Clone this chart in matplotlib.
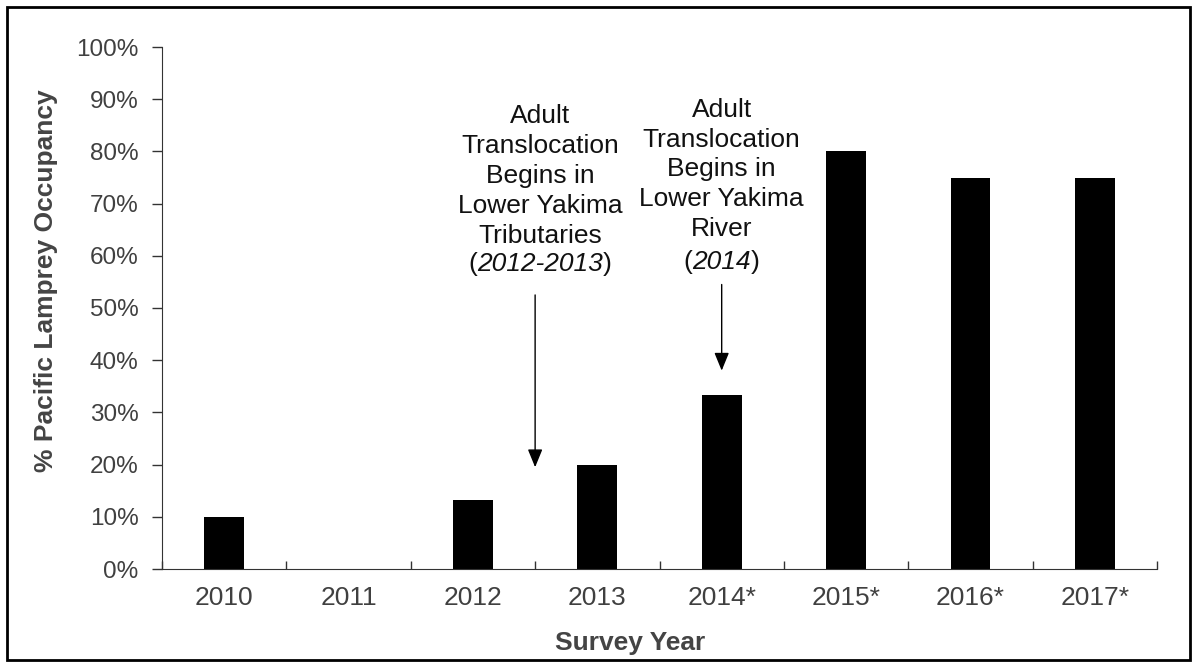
import matplotlib
matplotlib.use("Agg")
import matplotlib.pyplot as plt
from matplotlib.patches import Rectangle
from matplotlib.offsetbox import TextArea, HPacker, AnnotationBbox

years = ["2010", "2011", "2012", "2013", "2014*", "2015*", "2016*", "2017*"]
occupancy = [10.0, 0.0, 13.3, 20.0, 33.3, 80.0, 75.0, 75.0]
yticks = [0, 10, 20, 30, 40, 50, 60, 70, 80, 90, 100]
ytick_labels = [f"{v}%" for v in yticks]

note1_lines = "Adult\nTranslocation\nBegins in\nLower Yakima\nTributaries"
note1_years = "2012-2013"
note2_lines = "Adult\nTranslocation\nBegins in\nLower Yakima\nRiver"
note2_years = "2014"

plt.rcParams['font.family'] = ['Liberation Sans', 'DejaVu Sans']

fig = plt.figure(figsize=(11.94, 6.63), dpi=100)
ax = fig.add_axes([162/1194, 1-569/663, (1157-162)/1194, (569-47)/663])

x = list(range(len(years)))
ax.bar(x, occupancy, width=0.32, color="black")
ax.set_xlim(-0.5, len(years)-0.5)
ax.set_ylim(0, 100)

ax.set_yticks(yticks)
ax.set_yticklabels(ytick_labels, fontsize=17.5, color="#404040")
ax.tick_params(axis='y', direction='out', length=7, width=1, pad=10, colors="#333333",
               labelcolor="#404040")

# x: boundary ticks inward, labels at centers
ax.set_xticks([i + 0.5 for i in range(-1, len(years))])
ax.set_xticklabels([])
ax.tick_params(axis='x', which='major', direction='in', length=6, width=1, colors="#333333")
ax.set_xticks(x, minor=True)
ax.set_xticklabels(years, minor=True, fontsize=19, color="#404040")
ax.tick_params(axis='x', which='minor', length=0, pad=12)

for s in ["top", "right"]:
    ax.spines[s].set_visible(False)
for s in ["left", "bottom"]:
    ax.spines[s].set_color("#333333")

ax.set_xlabel("Survey Year", fontsize=19, fontweight='bold', color="#444444")
ax.xaxis.set_label_coords(0.47, -0.118)
ax.set_ylabel("% Pacific Lamprey Occupancy", fontsize=19, fontweight='bold', color="#444444")
ax.yaxis.set_label_coords(-0.105, 0.552)

txt_kw = dict(fontsize=19, color="#111111")
ax.text(2.54, 89.0, note1_lines, ha='center', va='top', linespacing=1.31, **txt_kw)
ax.text(4.0, 90.3, note2_lines, ha='center', va='top', linespacing=1.31, **txt_kw)


def years_line(xc, yc, yrs):
    parts = [TextArea("(", textprops=txt_kw),
             TextArea(yrs, textprops=dict(fontstyle='italic', **txt_kw)),
             TextArea(")", textprops=txt_kw)]
    box = HPacker(children=parts, align="baseline", pad=0, sep=0)
    ab = AnnotationBbox(box, (xc, yc), xycoords='data', frameon=False,
                        box_alignment=(0.5, 0.5), pad=0)
    ax.add_artist(ab)


years_line(2.54, 58.4, note1_years)
years_line(4.0, 58.8, note2_years)

arrow_kw = dict(arrowstyle='-|>,head_length=1.1,head_width=0.45', color='black', lw=1, shrinkA=0, shrinkB=0)
ax.annotate('', xy=(2.5, 19.5), xytext=(2.5, 52.5), arrowprops=arrow_kw)
ax.annotate('', xy=(4.0, 38.0), xytext=(4.0, 54.5), arrowprops=arrow_kw)

fig.patches.append(Rectangle((7/1194, 1-660/663), (1190-7)/1194, (660-7)/663,
                             transform=fig.transFigure, fill=False, edgecolor='black', lw=2))

fig.savefig("out.png", dpi=100)
